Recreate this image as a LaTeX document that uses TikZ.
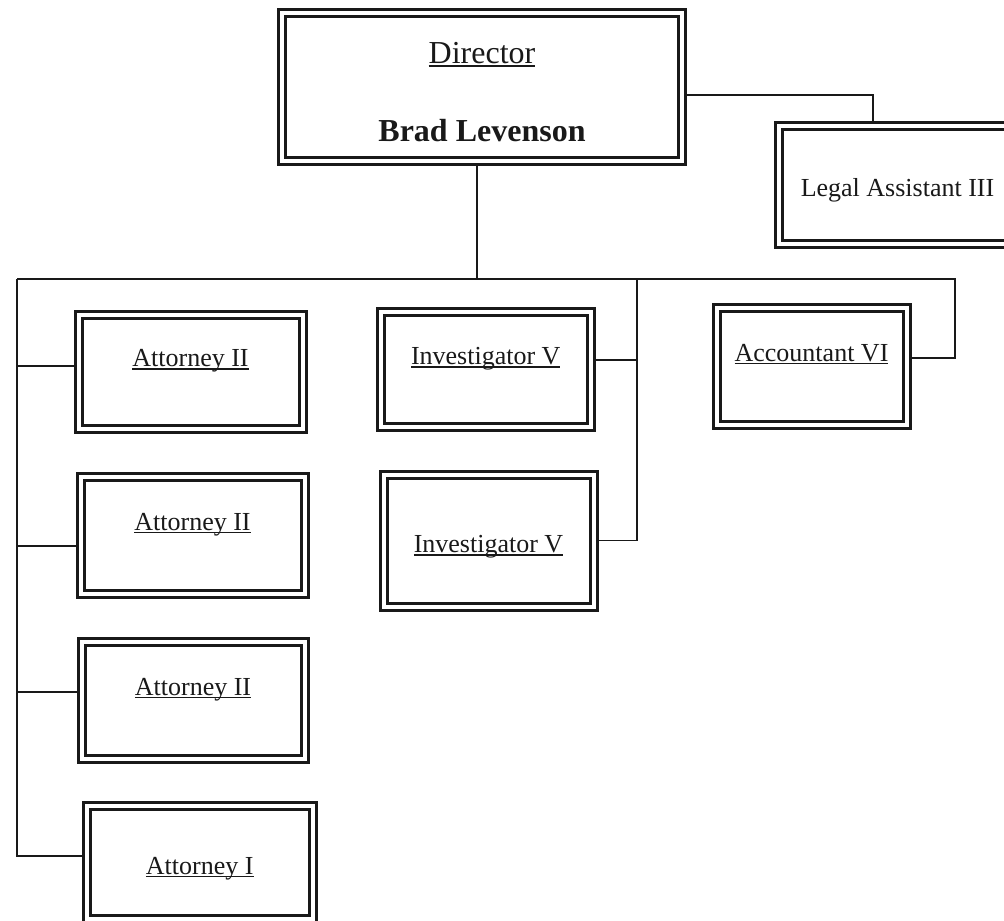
\documentclass[tikz,border=0pt]{standalone}
\usepackage{fontspec}
\setmainfont{Liberation Serif}
\usetikzlibrary{backgrounds}
\newcommand{\ulabel}[1]{\setbox0=\hbox{#1}\rlap{\rule[-3pt]{\wd0}{1.4pt}}\box0}
\tikzset{
  post/.style={draw=black!90, double, line width=3pt, double distance=4pt, inner sep=0pt, text=black!90, font=\fontsize{26}{31}\selectfont},
  upper/.style={text height=18pt, text depth=28pt},
  middle/.style={text height=24pt, text depth=0pt},
  wire/.style={draw=black!90, line width=1.8pt}
}
\begin{document}
\begin{tikzpicture}[x=1pt,y=-1pt]
\useasboundingbox (0,0) rectangle (1004,921);
\clip (0,0) rectangle (1004,921);

\node[post, minimum width=400.5pt, minimum height=148.5pt, align=center, font=\fontsize{32}{38}\selectfont] (dir) at (482,87) {\rule{0pt}{32pt}\ulabel{Director}\\[40pt]\textbf{Brad Levenson}};
\node[post, middle, minimum width=238pt, minimum height=117.5pt] (legal) at (897.5,184.75) {Legal Assistant III};

\node[post, upper, minimum width=224pt, minimum height=114pt] (att1) at (190.5,371.5) {\ulabel{Attorney II}};
\node[post, upper, minimum width=224pt, minimum height=117pt] (att2) at (192.5,535) {\ulabel{Attorney II}};
\node[post, upper, minimum width=223pt, minimum height=117pt] (att3) at (193,700) {\ulabel{Attorney II}};
\node[post, middle, minimum width=225.5pt, minimum height=113pt] (attI) at (199.75,862) {\ulabel{Attorney I}};

\node[post, upper, minimum width=210.5pt, minimum height=115pt] (inv1) at (485.75,369.5) {\ulabel{Investigator V}};
\node[post, middle, minimum width=210pt, minimum height=132pt] (inv2) at (488.5,540.5) {\ulabel{Investigator V}};

\node[post, upper, minimum width=190pt, minimum height=117pt] (acc) at (811.5,366) {\ulabel{Accountant VI}};

\begin{scope}[on background layer]
\coordinate (busL) at (17,279);
\coordinate (busI) at (637,279);
\coordinate (busR) at (955,279);
\draw[wire] ([xshift=-5pt]dir.south) -- ([xshift=-5pt]dir.south |- busL);
\draw[wire] ([yshift=-8pt]dir.east) -| ([xshift=-24.5pt]legal.north);
\draw[wire] (busL) -- (busR) |- ([yshift=8pt]acc.east);
\draw[wire] (busL) |- ([yshift=6pt]attI.west);
\draw[wire] ([yshift=5.5pt]att1.west) -- ([yshift=5.5pt]att1.west -| busL);
\draw[wire] ([yshift=-11pt]att2.west) -- ([yshift=-11pt]att2.west -| busL);
\draw[wire] ([yshift=8pt]att3.west) -- ([yshift=8pt]att3.west -| busL);
\draw[wire] (busI) |- (inv2.east);
\draw[wire] ([yshift=9.5pt]inv1.east) -- ([yshift=9.5pt]inv1.east -| busI);
\end{scope}
\end{tikzpicture}
\end{document}
